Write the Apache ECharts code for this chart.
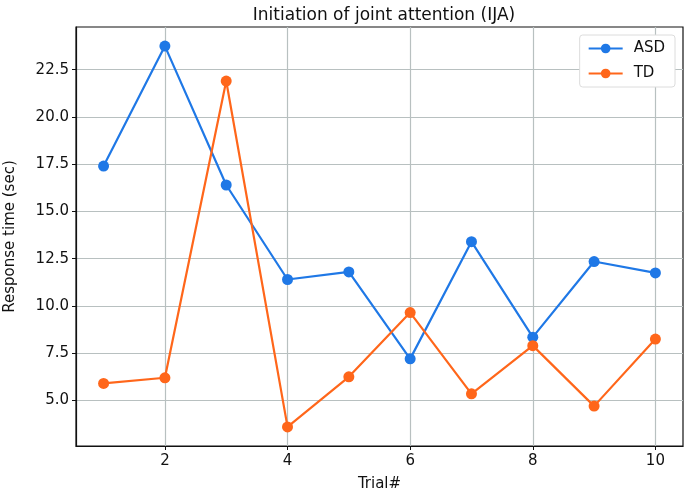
<!DOCTYPE html>
<html>
<head>
<meta charset="utf-8">
<script src="https://cdn.jsdelivr.net/npm/echarts@6/dist/echarts.min.js"></script>
<style>
  html, body { margin: 0; padding: 0; background: #fff; }
  #chart { width: 685px; height: 492px; }
</style>
</head>
<body>
<div id="chart"></div>
<script>
// values
const trials = [1, 2, 3, 4, 5, 6, 7, 8, 9, 10]
const asd = [17.4, 23.75, 16.4, 11.4, 11.8, 7.2, 13.4, 8.35, 12.35, 11.75]
const td = [5.9, 6.2, 21.9, 3.6, 6.25, 9.65, 5.35, 7.9, 4.7, 8.25]
const xTicks = [2, 4, 6, 8, 10]
const yTicks = [5, 7.5, 10, 12.5, 15, 17.5, 20, 22.5]

const font = 'DejaVu Sans'
const blue = '#1f78e6'
const orange = '#ff661a'
const gridGray = '#b8c0c0'

const pairs = (ys) => trials.map((t, i) => [t, ys[i]])

const chart = echarts.init(document.getElementById('chart'))

const option = {
  animation: false,
  title: {
    text: 'Initiation of joint attention (IJA)',
    left: 379,
    top: 2,
    textAlign: 'center',
    textStyle: { fontFamily: font, fontSize: 17, fontWeight: 'normal', color: '#111' }
  },
  legend: {
    orient: 'vertical',
    right: 10,
    top: 35,
    padding: [6, 10, 6, 8],
    itemGap: 10,
    itemWidth: 34,
    itemHeight: 12,
    borderColor: '#dcdcdc',
    borderWidth: 1,
    borderRadius: 3,
    backgroundColor: '#fff',
    textStyle: { fontFamily: font, fontSize: 15, color: '#111', padding: [0, 0, 0, 6] },
    data: ['ASD', 'TD']
  },
  grid: {
    left: 76,
    top: 27,
    right: 2,
    bottom: 46,
    containLabel: false,
    outerBoundsMode: 'none',
    show: true,
    borderColor: '#111',
    borderWidth: 1.2
  },
  xAxis: {
    type: 'value',
    min: 0.55,
    max: 10.45,
    name: 'Trial#',
    nameLocation: 'middle',
    nameGap: 31,
    nameTextStyle: { fontFamily: font, fontSize: 15, color: '#111' },
    axisLine: { show: true, onZero: false, lineStyle: { color: '#111', width: 1.2 } },
    axisTick: { show: true, length: 4, customValues: xTicks, lineStyle: { color: '#111' } },
    axisLabel: { customValues: xTicks, fontFamily: font, fontSize: 15, color: '#111', margin: 8 },
    splitLine: { show: true, lineStyle: { color: gridGray, width: 1.2 } }
  },
  yAxis: {
    type: 'value',
    min: 2.59,
    max: 24.76,
    name: 'Response time (sec)',
    nameLocation: 'middle',
    nameGap: 58,
    nameTextStyle: { fontFamily: font, fontSize: 15, color: '#111' },
    axisLine: { show: true, onZero: false, lineStyle: { color: '#111', width: 1.2 } },
    axisTick: { show: true, length: 4, customValues: yTicks, lineStyle: { color: '#111' } },
    axisLabel: {
      customValues: yTicks,
      fontFamily: font,
      fontSize: 15,
      color: '#111',
      margin: 7,
      formatter: (v) => v.toFixed(1)
    },
    splitLine: { show: true, lineStyle: { color: gridGray, width: 1.2 } }
  },
  series: [
    {
      name: 'ASD',
      type: 'line',
      data: pairs(asd),
      symbol: 'circle',
      symbolSize: 11,
      itemStyle: { color: blue },
      lineStyle: { color: blue, width: 2.2 },
      z: 3
    },
    {
      name: 'TD',
      type: 'line',
      data: pairs(td),
      symbol: 'circle',
      symbolSize: 11,
      itemStyle: { color: orange },
      lineStyle: { color: orange, width: 2.2 },
      z: 4
    }
  ]
}

chart.setOption(option)
</script>
</body>
</html>
